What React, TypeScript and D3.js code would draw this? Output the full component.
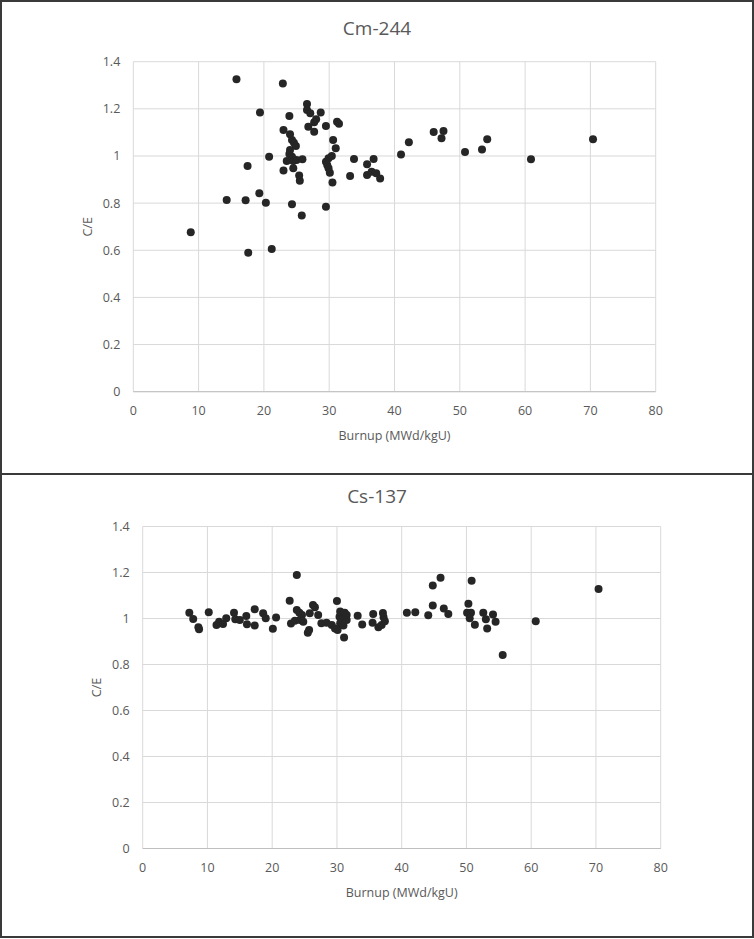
import React from "react";
import * as d3 from "d3";

// Cm-244 C/E vs burnup
const cmBurnup = [
  8.8, 14.3, 15.8, 17.2, 17.5, 17.6, 19.3, 19.4, 20.3, 20.8, 21.2, 22.9, 23.0, 23.0, 23.5,
  23.9, 24.0, 24.3, 24.6, 24.9, 24.0, 23.9, 24.3, 24.5, 25.0, 25.9, 24.5, 24.3, 25.4, 25.5,
  25.8, 26.6, 26.6, 27.1, 28.7, 28.0, 27.7, 26.8, 27.7, 29.5, 31.2, 31.5, 30.6, 31.0, 30.4,
  29.9, 29.5, 29.7, 29.9, 30.1, 30.5, 29.5, 33.8, 33.2, 35.8, 35.8, 36.5, 37.2, 37.8, 36.8,
  41.0, 42.2, 46.0, 47.5, 47.2, 50.8, 53.4, 54.2, 60.9, 70.4,
];
const cmCE = [
  0.676, 0.813, 1.326, 0.812, 0.958, 0.59, 0.842, 1.184, 0.802, 0.997, 0.605, 1.307, 1.11, 0.938, 0.979,
  1.17, 1.092, 1.068, 1.056, 1.042, 1.025, 1.008, 0.997, 0.979, 0.983, 0.986, 0.948, 0.795, 0.917, 0.895,
  0.747, 1.221, 1.195, 1.181, 1.184, 1.156, 1.143, 1.124, 1.103, 1.127, 1.145, 1.137, 1.068, 1.033, 1.0,
  0.99, 0.976, 0.962, 0.948, 0.929, 0.888, 0.785, 0.987, 0.915, 0.965, 0.919, 0.933, 0.927, 0.905, 0.987,
  1.006, 1.058, 1.102, 1.106, 1.075, 1.017, 1.028, 1.071, 0.986, 1.071,
];

// Cs-137 C/E vs burnup
const csBurnup = [
  7.2, 7.8, 8.6, 8.7, 10.2, 11.4, 11.8, 12.4, 12.9, 14.1, 14.3, 15.0, 16.0, 16.1, 17.3,
  17.3, 18.6, 19.0, 20.1, 20.6, 22.7, 22.9, 23.8, 23.8, 24.2, 24.6, 23.5, 24.3, 24.8, 25.5,
  25.7, 25.8, 26.3, 26.6, 27.1, 27.6, 28.4, 29.2, 29.7, 30.1, 30.0, 30.4, 30.5, 30.5, 30.7,
  31.0, 31.2, 31.5, 31.5, 31.1, 33.2, 33.9, 35.6, 35.5, 36.4, 36.9, 37.1, 37.2, 37.4, 40.8,
  42.1, 44.1, 44.8, 46.0, 44.8, 46.5, 47.2, 50.3, 50.1, 50.7, 50.5, 50.8, 51.3, 52.6, 53.0,
  53.2, 54.1, 54.5, 55.6, 60.7, 70.4,
];
const csCE = [
  1.025, 0.998, 0.962, 0.953, 1.027, 0.972, 0.986, 0.976, 1.001, 1.025, 0.997, 0.993, 1.011, 0.975, 1.04,
  0.97, 1.023, 1.001, 0.955, 1.004, 1.077, 0.978, 1.189, 1.037, 1.025, 1.015, 0.99, 0.993, 0.986, 0.938,
  0.95, 1.023, 1.059, 1.049, 1.015, 0.979, 0.982, 0.972, 0.957, 0.95, 1.076, 1.008, 1.03, 0.979, 0.996,
  0.97, 1.025, 1.015, 0.993, 0.917, 1.012, 0.974, 1.02, 0.982, 0.962, 0.972, 1.024, 1.005, 0.988, 1.025,
  1.027, 1.014, 1.144, 1.177, 1.057, 1.044, 1.02, 1.064, 1.025, 1.025, 1.001, 1.164, 0.973, 1.025, 0.997,
  0.957, 1.017, 0.986, 0.841, 0.988, 1.128,
];

const xTicks = [0, 10, 20, 30, 40, 50, 60, 70, 80];
const yTicks = [0, 0.2, 0.4, 0.6, 0.8, 1, 1.2, 1.4];
const xTitle = "Burnup (MWd/kgU)";
const yTitle = "C/E";

const FONT = "'Open Sans', 'DejaVu Sans', sans-serif";
const TXT = "#595959";

type PanelProps = {
  title: string;
  xs: number[];
  ys: number[];
  left: number;
  right: number;
  top: number;
  bottom: number;
  titleY: number;
  yTitleX: number;
};

function Panel({ title, xs, ys, left, right, top, bottom, titleY, yTitleX }: PanelProps) {
  const x = d3.scaleLinear().domain([0, 80]).range([left, right]);
  const y = d3.scaleLinear().domain([0, 1.4]).range([bottom, top]);
  return (
    <g>
      <text x={377} y={titleY} textAnchor="middle" fontFamily={FONT} fontSize={19} fill={TXT}>
        {title}
      </text>
      {yTicks.map((t) => (
        <line key={"h" + t} x1={left} x2={right} y1={y(t)} y2={y(t)} stroke="#d9d9d9" strokeWidth={1} />
      ))}
      {xTicks.map((t) => (
        <line key={"v" + t} x1={x(t)} x2={x(t)} y1={top} y2={bottom} stroke="#d9d9d9" strokeWidth={1} />
      ))}
      <line x1={left} x2={right} y1={bottom} y2={bottom} stroke="#bfbfbf" strokeWidth={1} />
      {yTicks.map((t) => (
        <text key={"yl" + t} x={left - 13} y={y(t) + 4.5} textAnchor="end" fontFamily={FONT} fontSize={12.5} fill={TXT}>
          {d3.format("~g")(t)}
        </text>
      ))}
      {xTicks.map((t) => (
        <text key={"xl" + t} x={x(t)} y={bottom + 23.5} textAnchor="middle" fontFamily={FONT} fontSize={12.5} fill={TXT}>
          {t}
        </text>
      ))}
      <text x={(left + right) / 2} y={bottom + 48.5} textAnchor="middle" fontFamily={FONT} fontSize={12.5} fill={TXT}>
        {xTitle}
      </text>
      <text
        transform={`translate(${yTitleX},${(top + bottom) / 2}) rotate(-90)`}
        textAnchor="middle"
        fontFamily={FONT}
        fontSize={12.5}
        fill={TXT}
      >
        {yTitle}
      </text>
      {xs.map((v, i) => (
        <circle key={"p" + i} cx={x(v)} cy={y(ys[i])} r={4} fill="#262626" />
      ))}
    </g>
  );
}

export default function App() {
  return (
    <svg
      width={754}
      height={939}
      style={{ position: "absolute", left: 0, top: 0, background: "#fff" }}
    >
      <rect x={0} y={0} width={754} height={939} fill="#fff" />
      <Panel
        title="Cm-244"
        xs={cmBurnup}
        ys={cmCE}
        left={133.3}
        right={655.7}
        top={61.7}
        bottom={391.7}
        titleY={35}
        yTitleX={92}
      />
      <Panel
        title="Cs-137"
        xs={csBurnup}
        ys={csCE}
        left={142.7}
        right={660.7}
        top={526.5}
        bottom={848.5}
        titleY={503}
        yTitleX={101}
      />
      <rect x={1} y={1} width={752} height={936} fill="none" stroke="#3a3a3a" strokeWidth={2} />
      <line x1={0} x2={754} y1={474} y2={474} stroke="#3a3a3a" strokeWidth={2} />
    </svg>
  );
}
